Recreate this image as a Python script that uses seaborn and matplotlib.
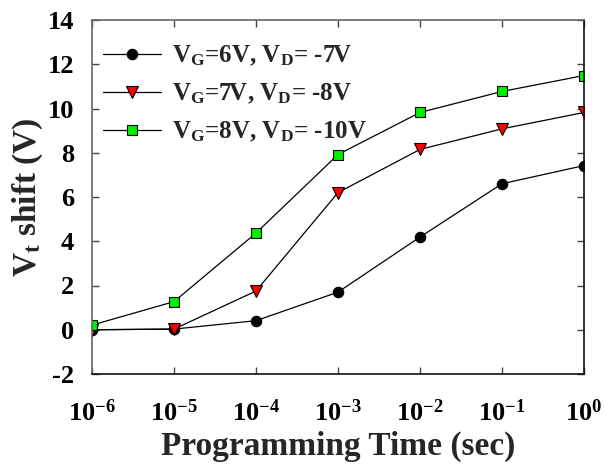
import matplotlib
matplotlib.use("Agg")
import matplotlib.pyplot as plt
import seaborn as sns
import pandas as pd

# Programming time (s) and threshold-voltage shift (V) for three bias conditions
times = [1e-6, 1e-5, 1e-4, 1e-3, 1e-2, 1e-1, 1e0]
vt_vg6 = [0.0, 0.03, 0.41, 1.70, 4.19, 6.60, 7.42]
vt_vg7 = [0.0, 0.03, 1.75, 6.20, 8.15, 9.08, 9.82]
vt_vg8 = [0.21, 1.27, 4.37, 7.92, 9.82, 10.77, 11.49]

labels = [r"$\mathbf{V_G}$=6V, $\mathbf{V_D}$= -7V",
          r"$\mathbf{V_G}$=7V, $\mathbf{V_D}$= -8V",
          r"$\mathbf{V_G}$=8V, $\mathbf{V_D}$= -10V"]
xtick_vals = [1e-6, 1e-5, 1e-4, 1e-3, 1e-2, 1e-1, 1e0]
xtick_labels = [r"$\mathbf{10^{-6}}$", r"$\mathbf{10^{-5}}$", r"$\mathbf{10^{-4}}$",
                r"$\mathbf{10^{-3}}$", r"$\mathbf{10^{-2}}$", r"$\mathbf{10^{-1}}$",
                r"$\mathbf{10^{0}}$"]
ytick_vals = [-2, 0, 2, 4, 6, 8, 10, 12, 14]

sns.set_style("ticks")
plt.rcParams["font.family"] = ["Liberation Serif", "DejaVu Serif"]
plt.rcParams["font.weight"] = "bold"
plt.rcParams["mathtext.fontset"] = "custom"
plt.rcParams["mathtext.rm"] = "Liberation Serif:bold"
plt.rcParams["mathtext.bf"] = "Liberation Serif:bold"
plt.rcParams["mathtext.it"] = "Liberation Serif:bold"

fig = plt.figure(figsize=(6.04, 4.71), dpi=100)
ax = fig.add_axes([92 / 604, 1 - 374 / 471, (584 - 92) / 604, (374 - 20) / 471])

series = [
    (vt_vg6, "o", "black", 7.5),
    (vt_vg7, "v", "red", 8.5),
    (vt_vg8, "s", "#00ee00", 7.0),
]
for (vals, mk, fc, ms), lab in zip(series, labels):
    df = pd.DataFrame({"t": times, "vt": vals})
    sns.lineplot(data=df, x="t", y="vt", ax=ax, color="black", linewidth=0.9,
                 marker=mk, markersize=ms, markerfacecolor=fc,
                 markeredgecolor="black", markeredgewidth=0.8, label=lab)

ax.set_xscale("log")
ax.set_xlim(1e-6, 1e0)
ax.set_ylim(-2, 14)
ax.set_xticks(xtick_vals)
ax.set_xticklabels(xtick_labels)
ax.minorticks_off()
ax.set_yticks(ytick_vals)
ax.set_yticklabels([str(v) for v in ytick_vals])
ax.tick_params(axis="both", which="both", direction="in", length=5, width=1,
               top=True, right=True, labelsize=19, colors="#444444",
               labelcolor="black")
ax.tick_params(axis="x", pad=18)
ax.tick_params(axis="y", pad=13)

for side in ["left", "top"]:
    ax.spines[side].set_color("#666666")
for side in ["right", "bottom"]:
    ax.spines[side].set_color("#111111")
for sp in ax.spines.values():
    sp.set_linewidth(1.2)

ax.set_xlabel("Programming Time (sec)", fontsize=24, fontweight="bold", labelpad=4)
ax.set_ylabel(r"$\mathbf{V_t}$ shift (V)", fontsize=24, fontweight="bold", labelpad=2)

leg = ax.legend(loc="upper left", bbox_to_anchor=(0.0, 0.965), frameon=False,
                fontsize=18, handlelength=2.3, borderaxespad=0.0, borderpad=0.45,
                labelspacing=0.55, handletextpad=0.45)

fig.savefig("out.png", dpi=100)
